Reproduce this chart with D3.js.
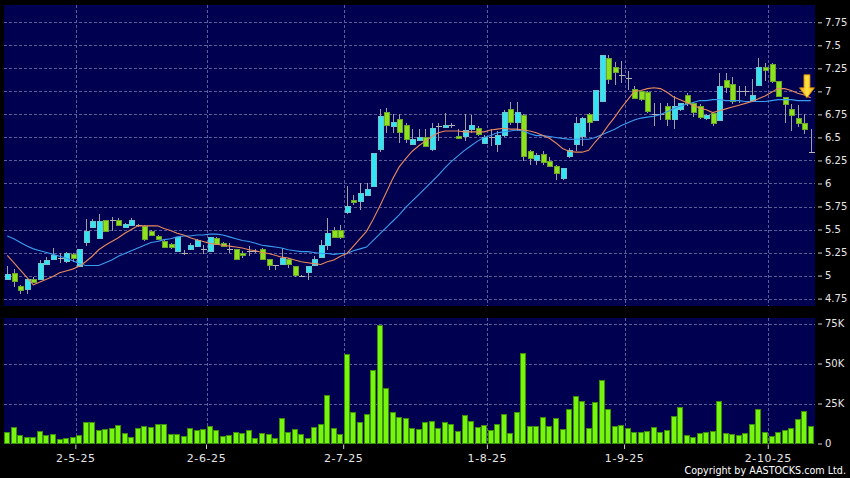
<!DOCTYPE html>
<html><head><meta charset="utf-8">
<script src="https://cdn.jsdelivr.net/npm/d3@7/dist/d3.min.js"></script>
<style>
html,body{margin:0;padding:0;background:#000;}
svg{display:block;}
</style></head><body>
<svg id="c" width="850" height="478"></svg>
<script>
// ---------- DATA ----------
const dates = [
"04-14","04-15","04-16","04-17","04-22","04-23","04-24","04-25","04-28","04-29","04-30",
"05-02","05-06","05-07","05-08","05-09","05-12","05-13","05-14","05-15","05-16","05-19","05-20","05-21","05-22","05-23","05-26","05-27","05-28","05-29","05-30",
"06-02","06-03","06-04","06-05","06-06","06-09","06-10","06-11","06-12","06-13","06-16","06-17","06-18","06-19","06-20","06-23","06-24","06-25","06-26","06-27","06-30",
"07-02","07-03","07-04","07-07","07-08","07-09","07-10","07-11","07-14","07-15","07-16","07-17","07-18","07-21","07-22","07-23","07-24","07-25","07-28","07-29","07-30","07-31",
"08-01","08-04","08-05","08-06","08-07","08-08","08-11","08-12","08-13","08-14","08-15","08-18","08-19","08-20","08-21","08-22","08-25","08-26","08-27","08-28","08-29",
"09-01","09-02","09-03","09-04","09-05","09-08","09-09","09-10","09-11","09-12","09-15","09-16","09-17","09-18","09-19","09-22","09-23","09-24","09-25","09-26","09-29","09-30",
"10-02","10-03","10-06","10-08","10-09","10-10","10-13"];

const open = [
4.97,5.03,4.89,4.85,4.96,4.97,5.13,5.18,5.19,5.15,
5.23,5.11,5.36,5.53,5.41,5.60,5.60,5.60,5.53,5.55,
5.55,5.54,5.48,5.43,5.38,5.34,5.27,5.24,5.29,5.33,
5.29,5.27,5.41,5.35,5.29,5.29,5.24,5.27,5.27,5.29,
5.18,5.11,5.13,5.18,5.10,5.00,5.03,5.11,5.20,5.33,
5.50,5.50,5.70,5.82,5.81,5.88,5.97,6.37,6.78,6.63,
6.70,6.63,6.43,6.48,6.51,6.37,6.62,6.62,6.63,6.52,
6.51,6.60,6.60,6.45,6.51,6.43,6.53,6.81,6.67,6.74,
6.35,6.26,6.32,6.24,6.19,6.06,6.29,6.43,6.51,6.75,
6.69,6.89,7.36,7.27,7.18,7.15,7.03,7.00,6.99,6.75,
6.75,6.84,6.70,6.80,6.96,6.87,6.84,6.71,6.77,6.69,
7.12,7.08,7.00,7.00,6.91,7.07,7.27,7.30,7.11,6.94,
6.81,6.71,6.66,6.34];
const high = [
5.10,5.07,4.90,4.96,4.98,5.17,5.20,5.30,5.24,5.26,
5.25,5.29,5.61,5.61,5.67,5.60,5.64,5.62,5.57,5.62,
5.56,5.55,5.50,5.44,5.40,5.35,5.42,5.28,5.35,5.40,
5.33,5.42,5.42,5.36,5.35,5.29,5.27,5.32,5.29,5.30,
5.18,5.11,5.30,5.19,5.10,5.01,5.10,5.21,5.39,5.62,
5.53,5.55,5.97,5.87,6.00,6.01,6.33,6.81,6.82,6.75,
6.75,6.66,6.59,6.59,6.59,6.66,6.66,6.76,6.66,6.59,
6.75,6.74,6.62,6.53,6.59,6.57,6.80,6.88,6.89,6.75,
6.36,6.33,6.35,6.29,6.20,6.17,6.39,6.72,6.72,6.77,
7.02,7.40,7.40,7.32,7.33,7.22,7.06,7.00,7.00,6.87,
6.87,6.87,6.95,6.87,6.98,6.88,6.86,6.75,6.78,7.20,
7.20,7.16,7.06,7.06,7.13,7.36,7.31,7.31,7.11,6.94,
6.86,6.85,6.75,6.59];
const low = [
4.96,4.88,4.80,4.80,4.92,4.96,5.12,5.17,5.14,5.14,
5.15,5.11,5.32,5.52,5.41,5.47,5.48,5.54,5.52,5.54,
5.53,5.38,5.43,5.39,5.30,5.29,5.27,5.22,5.28,5.33,
5.23,5.26,5.35,5.31,5.24,5.17,5.19,5.21,5.25,5.17,
5.06,5.06,5.12,5.08,4.98,4.98,4.95,5.10,5.19,5.28,
5.41,5.40,5.67,5.77,5.71,5.86,5.96,6.34,6.55,6.55,
6.44,6.44,6.42,6.47,6.40,6.35,6.46,6.60,6.60,6.49,
6.46,6.55,6.52,6.45,6.41,6.34,6.51,6.64,6.57,6.24,
6.20,6.20,6.20,6.18,6.04,6.04,6.28,6.35,6.41,6.56,
6.69,6.88,7.08,7.07,7.09,7.02,6.93,6.90,6.77,6.62,
6.69,6.62,6.59,6.79,6.84,6.72,6.70,6.69,6.62,6.69,
6.98,6.86,6.87,6.95,6.90,7.07,7.11,7.09,6.94,6.66,
6.57,6.61,6.54,6.34];
const close = [
5.02,4.94,4.85,4.96,4.93,5.14,5.17,5.22,5.19,5.24,
5.19,5.29,5.48,5.59,5.59,5.48,5.60,5.55,5.56,5.60,
5.55,5.40,5.44,5.40,5.32,5.31,5.42,5.24,5.33,5.39,
5.29,5.42,5.35,5.32,5.29,5.18,5.22,5.27,5.27,5.18,
5.11,5.11,5.19,5.13,5.00,5.00,5.10,5.18,5.33,5.46,
5.42,5.42,5.76,5.80,5.90,5.94,6.33,6.73,6.64,6.67,
6.56,6.48,6.48,6.51,6.41,6.60,6.62,6.64,6.63,6.50,
6.58,6.64,6.54,6.51,6.51,6.53,6.78,6.67,6.78,6.29,
6.27,6.31,6.23,6.19,6.11,6.17,6.36,6.66,6.71,6.66,
7.02,7.39,7.13,7.22,7.18,7.15,6.93,6.91,6.78,6.75,
6.75,6.70,6.84,6.87,6.87,6.77,6.72,6.74,6.66,7.06,
7.04,6.89,7.00,7.00,6.96,7.27,7.24,7.11,6.95,6.86,
6.74,6.66,6.59,6.34];
// volume, thousands of shares
const volume = [
7.0,10.1,5.1,4.1,3.9,8.0,5.3,6.1,2.8,3.6,
4.3,5.3,13.6,13.4,8.4,9.1,9.5,11.6,6.6,4.3,
9.7,10.9,10.5,12.2,12.2,5.9,5.9,4.7,9.9,8.6,
9.1,10.9,8.4,4.9,5.3,7.2,6.6,8.4,3.2,6.6,
5.9,3.6,16.1,7.0,9.1,6.1,3.6,10.5,12.4,30.3,
9.5,5.9,55.9,19.7,13.2,18.4,45.7,74.0,34.9,19.7,
16.8,15.7,9.5,9.1,13.4,14.0,9.4,13.2,12.4,7.8,
17.8,14.0,10.5,11.3,8.4,12.2,18.4,6.5,19.9,56.8,
10.9,10.7,16.6,10.7,15.9,9.2,21.4,29.7,26.6,9.8,
26.0,39.4,21.8,10.9,11.7,9.6,7.5,7.1,7.8,10.3,
6.9,8.6,17.0,23.0,5.2,3.8,6.3,7.5,7.8,26.6,
6.3,5.9,5.2,6.3,11.9,21.6,7.5,4.8,6.9,8.4,
9.4,15.5,20.1,10.9];
// moving averages
const maShort = [
5.22,5.14,5.06,4.98,4.90,4.93,4.96,4.99,5.03,5.05,
5.07,5.10,5.15,5.21,5.28,5.33,5.37,5.41,5.46,5.50,
5.54,5.54,5.54,5.54,5.51,5.49,5.46,5.44,5.41,5.39,
5.37,5.35,5.34,5.33,5.32,5.31,5.30,5.28,5.27,5.25,
5.24,5.22,5.20,5.19,5.17,5.15,5.14,5.13,5.12,5.15,
5.17,5.21,5.24,5.32,5.40,5.48,5.61,5.75,5.90,6.05,
6.18,6.27,6.35,6.41,6.46,6.51,6.55,6.57,6.57,6.57,
6.56,6.56,6.56,6.56,6.58,6.59,6.60,6.59,6.59,6.58,
6.57,6.55,6.52,6.49,6.44,6.38,6.35,6.34,6.34,6.36,
6.45,6.53,6.63,6.72,6.82,6.91,7.00,7.01,7.03,7.04,
7.03,6.99,6.94,6.91,6.88,6.85,6.82,6.80,6.77,6.79,
6.81,6.83,6.85,6.87,6.89,6.92,6.95,6.99,7.03,7.03,
7.01,6.98,6.96,6.93];
const maLong = [
5.43,5.40,5.36,5.32,5.29,5.27,5.25,5.23,5.21,5.19,
5.16,5.13,5.11,5.11,5.11,5.14,5.17,5.21,5.24,5.27,
5.30,5.33,5.36,5.37,5.39,5.40,5.42,5.43,5.43,5.44,
5.44,5.45,5.45,5.44,5.42,5.40,5.38,5.37,5.35,5.33,
5.32,5.31,5.30,5.28,5.27,5.26,5.26,5.25,5.24,5.24,
5.23,5.24,5.24,5.27,5.29,5.31,5.38,5.45,5.52,5.59,
5.66,5.74,5.81,5.88,5.95,6.02,6.09,6.17,6.24,6.30,
6.36,6.41,6.46,6.50,6.52,6.55,6.56,6.57,6.58,6.57,
6.54,6.52,6.52,6.51,6.50,6.49,6.48,6.48,6.48,6.48,
6.50,6.53,6.56,6.59,6.63,6.66,6.69,6.71,6.72,6.73,
6.75,6.78,6.81,6.84,6.86,6.88,6.90,6.90,6.91,6.91,
6.90,6.90,6.90,6.89,6.89,6.89,6.89,6.90,6.91,6.91,
6.91,6.90,6.90,6.90];
const priceTicks = [4.75,5,5.25,5.5,5.75,6,6.25,6.5,6.75,7,7.25,7.5,7.75];
const volumeTicks = [0,25,50,75];
const volumeTickLabels = ["0","25K","50K","75K"];
const monthStarts = ["05-02","06-02","07-02","08-01","09-01","10-02"];
const monthLabels = ["2-5-25","2-6-25","2-7-25","1-8-25","1-9-25","2-10-25"];
const copyright = "Copyright by AASTOCKS.com Ltd.";

// ---------- STYLE ----------
const C = {
  bg:"#000000", panel:"#000050", grid:"#5c5c98",
  up:"#33e4f2", upStroke:"#6cc4cc", down:"#8ee21c", downStroke:"#6aa62e",
  doji:"#b4b4b4", wick:"#a0a0a0",
  vol:"#77f50f", volStroke:"#3a8f08",
  maShort:"#e8885c", maLong:"#3c9cf0", text:"#e6e6e6"
};
const plotL=4, plotR=815, priceTop=5, priceBot=306, volTop=318, volBot=444;

const svg = d3.select("#c");
svg.append("rect").attr("width",850).attr("height",478).attr("fill",C.bg);

const x = d3.scaleBand().domain(dates).range([plotL, 814]).padding(0);
const bw = x.bandwidth();
const cx = d => x(d) + bw/2;
const y = d3.scaleLinear().domain([4.75,7.75]).range([298.6,22.3]);
const yv = d3.scaleLinear().domain([0,75]).range([443.5,323.5]);

// panels
svg.append("rect").attr("x",plotL).attr("y",priceTop).attr("width",plotR-plotL).attr("height",priceBot-priceTop).attr("fill",C.panel);
svg.append("rect").attr("x",plotL).attr("y",volTop).attr("width",plotR-plotL).attr("height",volBot-volTop).attr("fill",C.panel);

// grid
const grid = svg.append("g").attr("stroke",C.grid).attr("stroke-width",1).attr("stroke-dasharray","3,2").attr("shape-rendering","crispEdges");
priceTicks.forEach(t=>{
  const yy = Math.round(y(t))+0.5;
  grid.append("line").attr("x1",plotL).attr("x2",plotR).attr("y1",yy).attr("y2",yy);
});
volumeTicks.slice(1).forEach(t=>{
  const yy = Math.round(yv(t))+0.5;
  grid.append("line").attr("x1",plotL).attr("x2",plotR).attr("y1",yy).attr("y2",yy);
});
monthStarts.forEach(d=>{
  const xx = Math.round(x(d))+0.5;
  grid.append("line").attr("x1",xx).attr("x2",xx).attr("y1",priceTop).attr("y2",priceBot);
  grid.append("line").attr("x1",xx).attr("x2",xx).attr("y1",volTop).attr("y2",volBot);
});

// candles
const cg = svg.append("g").attr("shape-rendering","crispEdges");
dates.forEach((d,i)=>{
  const xc = Math.round(cx(d))+0.5;
  cg.append("line").attr("x1",xc).attr("x2",xc).attr("y1",y(high[i])).attr("y2",y(low[i])).attr("stroke",C.wick);
  const o=open[i], c=close[i];
  if (o===c) {
    const yy = Math.round(y(o))+0.5;
    cg.append("line").attr("x1",xc-3).attr("x2",xc+3).attr("y1",yy).attr("y2",yy).attr("stroke",C.doji);
  } else {
    const top = y(Math.max(o,c)), bot = y(Math.min(o,c));
    cg.append("rect").attr("x",xc-2.5).attr("y",Math.round(top)+0.5)
      .attr("width",5).attr("height",Math.max(1,Math.round(bot-top)))
      .attr("fill", c>o?C.up:C.down).attr("stroke", c>o?C.upStroke:C.downStroke);
  }
});

// moving averages
const lineGen = d3.line().x((v,i)=>cx(dates[i])).y(v=>y(v)).curve(d3.curveLinear);
svg.append("path").attr("d",lineGen(maLong)).attr("fill","none").attr("stroke",C.maLong).attr("stroke-width",1.1);
svg.append("path").attr("d",lineGen(maShort)).attr("fill","none").attr("stroke",C.maShort).attr("stroke-width",1.1);

// arrow marker at last bars
const defs = svg.append("defs");
const gr = defs.append("linearGradient").attr("id","ag").attr("x1","0").attr("x2","1");
gr.append("stop").attr("offset","0").attr("stop-color","#f2a000");
gr.append("stop").attr("offset","0.5").attr("stop-color","#ffe24a");
gr.append("stop").attr("offset","1").attr("stop-color","#f5b000");
const ax = (cx(dates[122])+cx(dates[123]))/2 - 0.5;
const tip = y(maShort[maShort.length-1]);
svg.append("path")
  .attr("d",`M${ax-3},${tip-23} L${ax+3},${tip-23} L${ax+3},${tip-10} L${ax+7.5},${tip-10} L${ax},${tip} L${ax-7.5},${tip-10} L${ax-3},${tip-10} Z`)
  .attr("fill","url(#ag)").attr("stroke","#d98a00").attr("stroke-width",0.8);

// volume bars
const vg = svg.append("g").attr("shape-rendering","crispEdges");
dates.forEach((d,i)=>{
  const xc = Math.round(cx(d));
  const top = Math.round(yv(volume[i]));
  vg.append("rect").attr("x",xc-2.5).attr("y",top+0.5).attr("width",5).attr("height",Math.max(0,443.5-top-0.5))
    .attr("fill",C.vol).attr("stroke",C.volStroke);
});

// axes
function styleAxis(g, size){
  g.select(".domain").remove();
  g.attr("font-family","'DejaVu Sans', Verdana, sans-serif").attr("font-size",size).attr("color",C.text);
  g.selectAll("line").attr("stroke","#cfcfcf");
  g.selectAll("text").attr("fill",C.text);
}
const yAxis = d3.axisRight(y).tickValues(priceTicks).tickFormat(d=>String(d)).tickSize(4).tickPadding(3);
const gy = svg.append("g").attr("transform","translate(818,0)").call(yAxis);
styleAxis(gy,10);

const vAxis = d3.axisRight(yv).tickValues(volumeTicks).tickFormat((d,i)=>volumeTickLabels[i]).tickSize(4).tickPadding(3);
const gv = svg.append("g").attr("transform","translate(818,0)").call(vAxis);
styleAxis(gv,10);

const xAxis = d3.axisBottom(x).tickValues(monthStarts).tickFormat((d,i)=>monthLabels[i]).tickSize(4.5).tickPadding(5);
const gx = svg.append("g").attr("transform",`translate(${-bw/2},444.5)`).call(xAxis);
styleAxis(gx,11);
gx.selectAll("text").attr("letter-spacing","0.6px");

// copyright
svg.append("text").attr("x",846).attr("y",474).attr("text-anchor","end")
  .attr("font-family","'DejaVu Sans', Verdana, sans-serif").attr("font-size",9.6)
  .attr("fill","#ffffff").text(copyright);
</script>
</body></html>
